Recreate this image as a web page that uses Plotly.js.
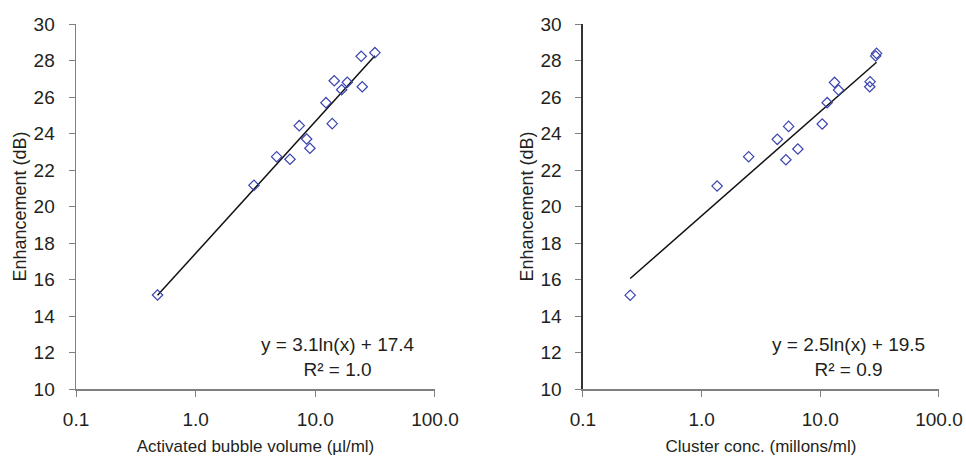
<!DOCTYPE html>
<html>
<head>
<meta charset="utf-8">
<script src="https://cdn.plot.ly/plotly-3.0.1.min.js"></script>
<style>html,body{margin:0;padding:0;background:#fff;}#chart{width:966px;height:459px;}</style>
</head>
<body>
<div id="chart"></div>
<script>
// Left panel: activated bubble volume (µl/ml) vs enhancement (dB)
var bubbleVolume = [0.48, 3.07, 4.75, 6.14, 7.34, 8.46, 9.01, 12.27, 13.84, 14.38, 16.59, 18.49, 24.66, 24.17, 31.47];
var enhancementLeft = [15.15, 21.16, 22.73, 22.59, 24.43, 23.70, 23.19, 25.69, 24.54, 26.89, 26.40, 26.81, 26.56, 28.23, 28.43];
// Right panel: cluster concentration (millons/ml) vs enhancement (dB)
var clusterConc = [0.25, 1.35, 2.49, 4.34, 5.13, 5.41, 6.47, 10.38, 11.43, 13.19, 14.26, 29.8, 29.3, 26.3, 26.1];
var enhancementRight = [15.14, 21.12, 22.73, 23.68, 22.56, 24.39, 23.15, 24.52, 25.69, 26.80, 26.38, 28.39, 28.25, 26.84, 26.56];

var tickVals = [0.1, 1, 10, 100];
var tickText = ['0.1', '1.0', '10.0', '100.0'];
var eqLeft = 'y = 3.1ln(x) + 17.4<br>R² = 1.0';
var eqRight = 'y = 2.5ln(x) + 19.5<br>R² = 0.9';

function logFit(xs, ys) {
  var n = xs.length, sx = 0, sy = 0, sxx = 0, sxy = 0;
  for (var i = 0; i < n; i++) {
    var lx = Math.log(xs[i]);
    sx += lx; sy += ys[i]; sxx += lx * lx; sxy += lx * ys[i];
  }
  var b = (n * sxy - sx * sy) / (n * sxx - sx * sx);
  var a = (sy - b * sx) / n;
  var xmin = Math.min.apply(null, xs), xmax = Math.max.apply(null, xs);
  return {x: [xmin, xmax], y: [a + b * Math.log(xmin), a + b * Math.log(xmax)]};
}
var fitL = logFit(bubbleVolume, enhancementLeft);
var fitR = logFit(clusterConc, enhancementRight);

var markerStyle = {symbol: 'diamond-open', size: 8, color: '#3a44b0', line: {width: 1.2, color: '#3a44b0'}};
var fam = 'Liberation Sans, Arial, sans-serif';
var tickFont = {family: fam, size: 19, color: '#231f20'};
var xTitleFont = {family: fam, size: 17, color: '#231f20'};
var yTitleFont = {family: fam, size: 18, color: '#231f20'};
var eqFont = {family: fam, size: 19, color: '#231f20'};

var traces = [
  {x: fitL.x, y: fitL.y, mode: 'lines', line: {color: '#111', width: 1.5}, xaxis: 'x', yaxis: 'y', hoverinfo: 'skip'},
  {x: bubbleVolume, y: enhancementLeft, mode: 'markers', marker: markerStyle, xaxis: 'x', yaxis: 'y'},
  {x: fitR.x, y: fitR.y, mode: 'lines', line: {color: '#111', width: 1.5}, xaxis: 'x2', yaxis: 'y2', hoverinfo: 'skip'},
  {x: clusterConc, y: enhancementRight, mode: 'markers', marker: markerStyle, xaxis: 'x2', yaxis: 'y2'}
];

function xAxis(domain, anchor, title) {
  return {
    domain: domain, anchor: anchor, type: 'log', range: [-1, 2],
    tickvals: tickVals, ticktext: tickText,
    ticks: 'outside', ticklen: 6, tickcolor: '#808080', tickwidth: 1,
    showline: true, linecolor: '#808080', linewidth: 1.5, showgrid: false, zeroline: false,
    tickfont: tickFont, ticklabelstandoff: 7,
    title: {text: title, font: xTitleFont, standoff: 11}
  };
}
function yAxis(domain, anchor, lineColor) {
  return {
    domain: domain, anchor: anchor, range: [10, 30], dtick: 2, tick0: 10,
    ticks: 'outside', ticklen: 6, tickcolor: '#808080', tickwidth: 1,
    showline: true, linecolor: lineColor, linewidth: 1.5, showgrid: false, zeroline: false,
    tickfont: tickFont, ticklabelstandoff: 10,
    title: {text: 'Enhancement (dB)', font: yTitleFont, standoff: 2}
  };
}

var yDom = [0.1525, 0.9477];
var layout = {
  width: 966, height: 459,
  margin: {l: 0, r: 0, t: 0, b: 0},
  paper_bgcolor: '#fff', plot_bgcolor: '#fff',
  showlegend: false,
  font: tickFont,
  xaxis: xAxis([0.0787, 0.4503], 'y', 'Activated bubble volume (µl/ml)'),
  yaxis: yAxis(yDom, 'x', '#808080'),
  xaxis2: xAxis([0.6035, 0.9720], 'y2', 'Cluster conc. (millons/ml)'),
  yaxis2: yAxis(yDom, 'x2', '#333333'),
  annotations: [
    {text: eqLeft, xref: 'paper', yref: 'paper', x: 338 / 966, y: (459 - 357) / 459, xanchor: 'center', yanchor: 'middle', showarrow: false, align: 'center', font: eqFont},
    {text: eqRight, xref: 'paper', yref: 'paper', x: 848 / 966, y: (459 - 357) / 459, xanchor: 'center', yanchor: 'middle', showarrow: false, align: 'center', font: eqFont}
  ]
};

Plotly.newPlot('chart', traces, layout, {staticPlot: true, displayModeBar: false});
</script>
</body>
</html>
